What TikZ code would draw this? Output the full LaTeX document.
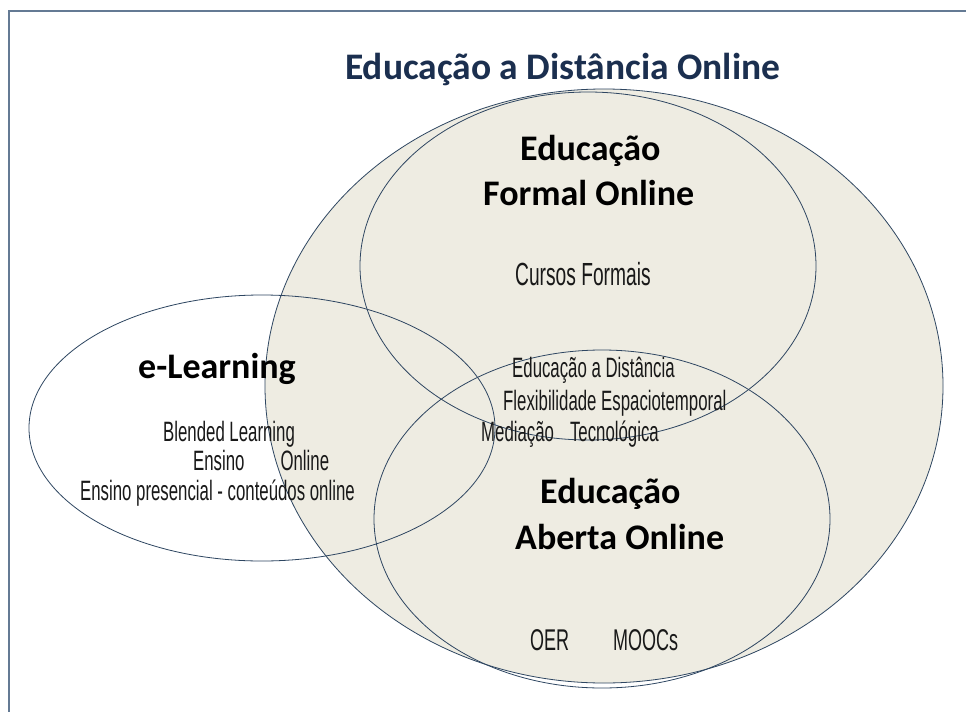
\documentclass[tikz,border=0pt]{standalone}
\usepackage{fontspec}
\setmainfont{Carlito}
\newfontfamily\headf{Carlito}
\newfontfamily\condf[FakeStretch=0.6]{Liberation Sans}
\definecolor{beige}{RGB}{238,236,226}
\definecolor{edge}{RGB}{46,70,97}
\definecolor{titlec}{RGB}{27,47,79}
\definecolor{framec}{RGB}{100,122,148}
\tikzset{
  set/.style={draw=edge, line width=0.8pt},
  head/.style={anchor=base west, inner sep=0pt, font=\headf\bfseries\fontsize{36}{40}\selectfont},
  cond/.style={anchor=base west, inner sep=0pt, text=black!90, font=\condf\fontsize{28}{32}\selectfont},
}
\begin{document}
\begin{tikzpicture}[x=1pt,y=-1pt]
\useasboundingbox (0,0) rectangle (966,712);
\fill[white] (0,0) rectangle (966,712);
% frame
\coordinate (ftl) at (9,11);
\coordinate (ftr) at (966,11);
\coordinate (fbl) at (9,712);
\draw[framec, line width=2pt] (ftr) -- (ftl) -- (fbl);
% sets
\fill[beige] (604,386) ellipse [x radius=339, y radius=297];
\draw[set] (604,386) ellipse [x radius=339, y radius=297];
\draw[set] (588,266) ellipse [x radius=228, y radius=174];
\draw[set] (602,519) ellipse [x radius=228, y radius=169];
\draw[set] (262,428) ellipse [x radius=233, y radius=133];
% texts
\node[head, text=titlec, font=\headf\bfseries\fontsize{37.5}{42}\selectfont] (title) at (345,79) {Educação a Distância Online};
\node[head] (f1) at (520,160) {Educação};
\node[head] (f2) at (483,205) {Formal Online};
\node[cond, font=\condf\fontsize{32}{36}\selectfont] (cf) at (515,285) {Cursos Formais};
\node[head] (el) at (138,378) {e-Learning};
\node[cond] (bl) at (163,441) {Blended Learning};
\node[cond] (eo) at (193,470) {Ensino\hspace{36pt}Online};
\node[cond] (ep) at (80,500) {Ensino presencial - conteúdos online};
\node[cond] (ed) at (512,377) {Educação a Distância};
\node[cond] (fe) at (503,410) {Flexibilidade Espaciotemporal};
\node[cond] (mt) at (481,441) {Mediação\hspace{16pt}Tecnológica};
\node[head] (a1) at (540,503) {Educação};
\node[head] (a2) at (515,549) {Aberta Online};
\node[cond, font=\condf\fontsize{30}{34}\selectfont] (om) at (530,650) {OER\hspace{44pt}MOOCs};
\end{tikzpicture}
\end{document}
